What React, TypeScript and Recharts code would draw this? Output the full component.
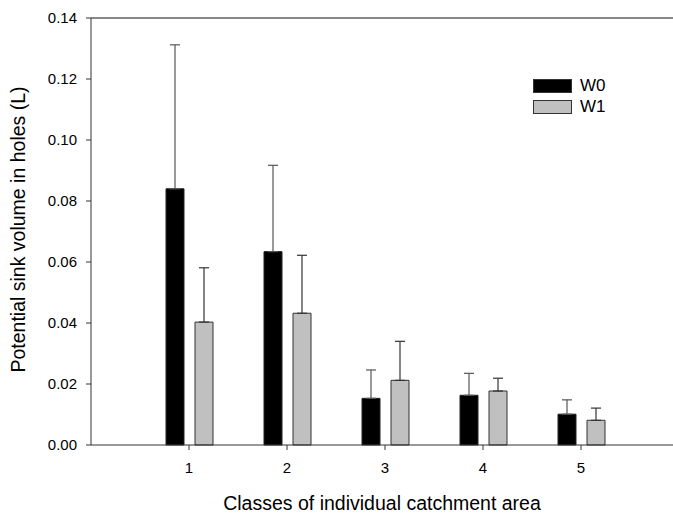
import React from "react";
import {
  Bar,
  BarChart,
  ErrorBar,
  ReferenceLine,
  XAxis,
  YAxis,
} from "recharts";

const classes = ["1", "2", "3", "4", "5"];
const w0 = [0.084, 0.0634, 0.0153, 0.0163, 0.0101];
const w0Err = [0.0472, 0.0283, 0.0093, 0.0072, 0.0047];
const w1 = [0.0403, 0.0432, 0.0212, 0.0177, 0.0081];
const w1Err = [0.0178, 0.019, 0.0128, 0.0042, 0.004];
const yTicks = [0, 0.02, 0.04, 0.06, 0.08, 0.1, 0.12, 0.14];

const data = classes.map((c, i) => ({
  cls: c,
  w0: w0[i],
  w0Err: [0, w0Err[i]],
  w1: w1[i],
  w1Err: [0, w1Err[i]],
}));

const FONT = "'Liberation Sans', Arial, sans-serif";
const AXIS = "#333";

// legend drawn as a plain overlay so it doesn't eat into the plot area
function LegendBox() {
  const rows = [
    { name: "W0", fill: "#000" },
    { name: "W1", fill: "#c0c0c0" },
  ];
  return (
    <div
      style={{
        position: "absolute",
        left: 533,
        top: 75,
        fontFamily: FONT,
        fontSize: 17,
        color: "#000",
      }}
    >
      {rows.map((r) => (
        <div key={r.name} style={{ display: "flex", alignItems: "center", height: 21 }}>
          <span
            style={{
              display: "inline-block",
              width: 37,
              height: 12,
              background: r.fill,
              border: "1px solid #333",
              marginRight: 8,
            }}
          />
          <span>{r.name}</span>
        </div>
      ))}
    </div>
  );
}

export default function App() {
  return (
    <div style={{ position: "absolute", left: 0, top: 0, width: 673, height: 516, background: "#fff" }}>
      <BarChart
        width={673}
        height={516}
        data={data}
        margin={{ top: 18, right: 0, left: 31, bottom: 0 }}
        barSize={18}
        barGap={11}
      >
        <XAxis
          dataKey="cls"
          height={71}
          padding={{ left: 49, right: 43 }}
          tick={{ fill: "#000", fontSize: 15, fontFamily: FONT }}
          tickSize={5}
          tickMargin={12}
          axisLine={{ stroke: AXIS }}
          tickLine={{ stroke: AXIS }}
          label={{
            content: ({ viewBox }: any) => (
              <text
                x={viewBox.x + 291}
                y={viewBox.y + 65}
                textAnchor="middle"
                fontSize={19.5}
                fontFamily={FONT}
                fill="#000"
              >
                Classes of individual catchment area
              </text>
            ),
          }}
        />
        <YAxis
          width={60}
          domain={[0, 0.14]}
          ticks={yTicks}
          tickFormatter={(v: number) => v.toFixed(2)}
          tick={{ fill: "#000", fontSize: 15, fontFamily: FONT }}
          tickSize={5}
          tickMargin={9}
          axisLine={{ stroke: AXIS }}
          tickLine={{ stroke: AXIS }}
          label={{
            content: ({ viewBox }: any) => {
              const x = viewBox.x - 13;
              const y = viewBox.y + viewBox.height / 2 - 2;
              return (
                <text
                  x={x}
                  y={y}
                  transform={`rotate(-90 ${x} ${y})`}
                  textAnchor="middle"
                  dominantBaseline="central"
                  fontSize={19.5}
                  fontFamily={FONT}
                  fill="#000"
                >
                  Potential sink volume in holes (L)
                </text>
              );
            },
          }}
        />
        <ReferenceLine y={0.14} stroke="#111" strokeWidth={1} />
        <Bar dataKey="w0" name="W0" fill="#000" stroke="#222" isAnimationActive={false}>
          <ErrorBar dataKey="w0Err" direction="y" width={5} stroke="#555" strokeWidth={1.2} />
        </Bar>
        <Bar dataKey="w1" name="W1" fill="#c0c0c0" stroke="#333" isAnimationActive={false}>
          <ErrorBar dataKey="w1Err" direction="y" width={5} stroke="#333" strokeWidth={1.2} />
        </Bar>
      </BarChart>
      <LegendBox />
    </div>
  );
}
